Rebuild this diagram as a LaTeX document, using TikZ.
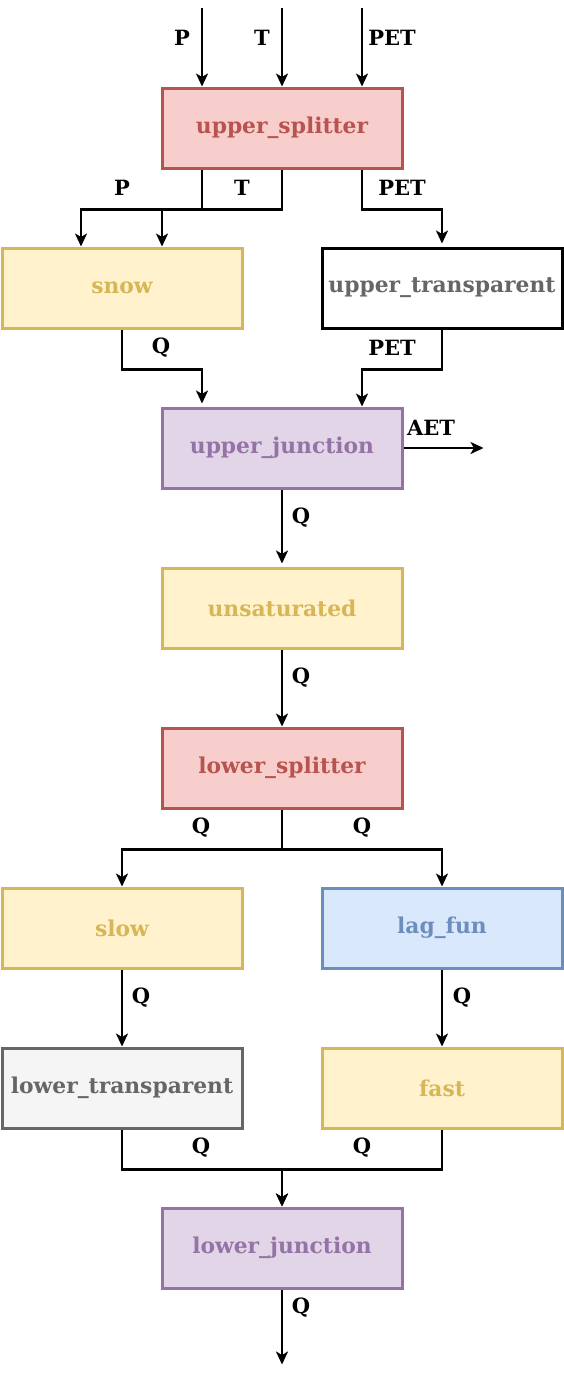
\documentclass[tikz,border=0pt]{standalone}
\usepackage{fontspec}
\setmainfont{DejaVu Serif}
\usetikzlibrary{arrows.meta, positioning, calc}

\definecolor{redfill}{HTML}{F8CECC}
\definecolor{redline}{HTML}{B85450}
\definecolor{yelfill}{HTML}{FFF2CC}
\definecolor{yelline}{HTML}{D6B656}
\definecolor{purfill}{HTML}{E1D5E7}
\definecolor{purline}{HTML}{9673A6}
\definecolor{bluefill}{HTML}{DAE8FC}
\definecolor{blueline}{HTML}{6C8EBF}
\definecolor{grayfill}{HTML}{F5F5F5}
\definecolor{grayline}{HTML}{666666}

\begin{document}
\begin{tikzpicture}[
  x=1pt, y=1pt,
  box/.style={draw, line width=3pt, minimum width=240pt, minimum height=80pt, inner sep=0pt, font=\fontsize{21.8}{24}\selectfont\bfseries},
  splitbox/.style={box, fill=redfill, draw=redline, text=redline},
  storebox/.style={box, fill=yelfill, draw=yelline, text=yelline},
  joinbox/.style={box, fill=purfill, draw=purline, text=purline},
  lagbox/.style={box, fill=bluefill, draw=blueline, text=blueline},
  passbox/.style={box, fill=grayfill, draw=grayline, text=grayline},
  lbl/.style={font=\fontsize{21}{24}\selectfont\bfseries, inner sep=0pt},
  flow/.style={-{Stealth[length=13pt, width=12pt, inset=3.5pt]}, line width=2.3pt}
]
  \useasboundingbox[fill=white] (0,0) rectangle (564,-1374);

  % Upper part
  \node[splitbox] (upper_splitter) at (282,-128) {upper\_splitter};
  \node[storebox, below=77pt of upper_splitter, xshift=-160pt] (snow) {snow};
  \node[box, fill=white, draw=black, text=grayline, below=77pt of upper_splitter, xshift=160pt] (upper_transparent) {upper\_transparent};
  \node[joinbox, below=237pt of upper_splitter] (upper_junction) {upper\_junction};
  \node[storebox, below=77pt of upper_junction] (unsaturated) {unsaturated};

  % Lower part
  \node[splitbox, below=77pt of unsaturated] (lower_splitter) {lower\_splitter};
  \node[storebox, below=77pt of lower_splitter, xshift=-160pt] (slow) {slow};
  \node[lagbox, below=77pt of lower_splitter, xshift=160pt] (lag_fun) {lag\_fun};
  \node[passbox, below=77pt of slow] (lower_transparent) {lower\_transparent};
  \node[storebox, below=77pt of lag_fun] (fast) {fast};
  \node[joinbox, below=397pt of lower_splitter] (lower_junction) {lower\_junction};

  % Free ends
  \coordinate (inP) at (202,-8);
  \coordinate (inT) at (282,-8);
  \coordinate (inPET) at (362,-8);
  \coordinate (outAET) at ($(upper_junction.east)+(80,0)$);
  \coordinate (outQ) at ($(lower_junction.south)+(0,-75)$);

  % Forcing
  \draw[flow] (inP) -- (inP |- upper_splitter.north);
  \draw[flow] (inT) -- (inT |- upper_splitter.north);
  \draw[flow] (inPET) -- (inPET |- upper_splitter.north);
  \node[lbl] (lblinP) at (182,-38) {P};
  \node[lbl] (lblinT) at (262,-38) {T};
  \node[lbl] (lblinPET) at (392,-38) {PET};

  % Splitter outputs
  \draw[flow] ([xshift=-80pt]upper_splitter.south) -- ++(0,-40) -| ([xshift=-41pt]snow.north);
  \draw[flow] (upper_splitter.south) -- ++(0,-40) -| ([xshift=40pt]snow.north);
  \draw[flow] ([xshift=80pt]upper_splitter.south) -- ++(0,-40) -| ([yshift=3pt]upper_transparent.north);
  \node[lbl] (lblP) at (122,-188) {P};
  \node[lbl] (lblT) at (242,-188) {T};
  \node[lbl] (lblPET) at (402,-188) {PET};

  % Into upper junction
  \draw[flow] (snow.south) -- ++(0,-40) -| ([xshift=-80pt, yshift=3pt]upper_junction.north);
  \draw[flow] (upper_transparent.south) -- ++(0,-40) -| ([xshift=80pt]upper_junction.north);
  \draw[flow] (upper_junction.east) -- (outAET);
  \node[lbl] (lblsnowQ) at (161,-348) {Q};
  \node[lbl] (lbltrPET) at (392,-348) {PET};
  \node[lbl] (lblAET) at (431,-428) {AET};

  % Middle column
  \draw[flow] (upper_junction) -- ([yshift=3pt]unsaturated.north);
  \draw[flow] (unsaturated) -- (lower_splitter);
  \node[lbl] (lbljunQ) at (301,-518) {Q};
  \node[lbl] (lblunsQ) at (301,-678) {Q};

  % Lower splitter outputs
  \draw[flow] (lower_splitter.south) -- ++(0,-40) -| (slow.north);
  \draw[flow] (lower_splitter.south) -- ++(0,-40) -| (lag_fun.north);
  \node[lbl] (lblslowQ) at (201,-828) {Q};
  \node[lbl] (lbllagQ) at (362,-828) {Q};

  \draw[flow] (slow) -- (lower_transparent);
  \draw[flow] (lag_fun) -- (fast);
  \node[lbl] (lblltQ) at (141,-998) {Q};
  \node[lbl] (lblfastQ) at (462,-998) {Q};

  % Into lower junction
  \draw[flow] (lower_transparent.south) -- ++(0,-40) -| (lower_junction.north);
  \draw[flow] (fast.south) -- ++(0,-40) -| (lower_junction.north);
  \draw[flow] (lower_junction) -- (outQ);
  \node[lbl] (lbljoinL) at (201,-1148) {Q};
  \node[lbl] (lbljoinR) at (362,-1148) {Q};
  \node[lbl] (lbloutQ) at (301,-1308) {Q};
\end{tikzpicture}
\end{document}
